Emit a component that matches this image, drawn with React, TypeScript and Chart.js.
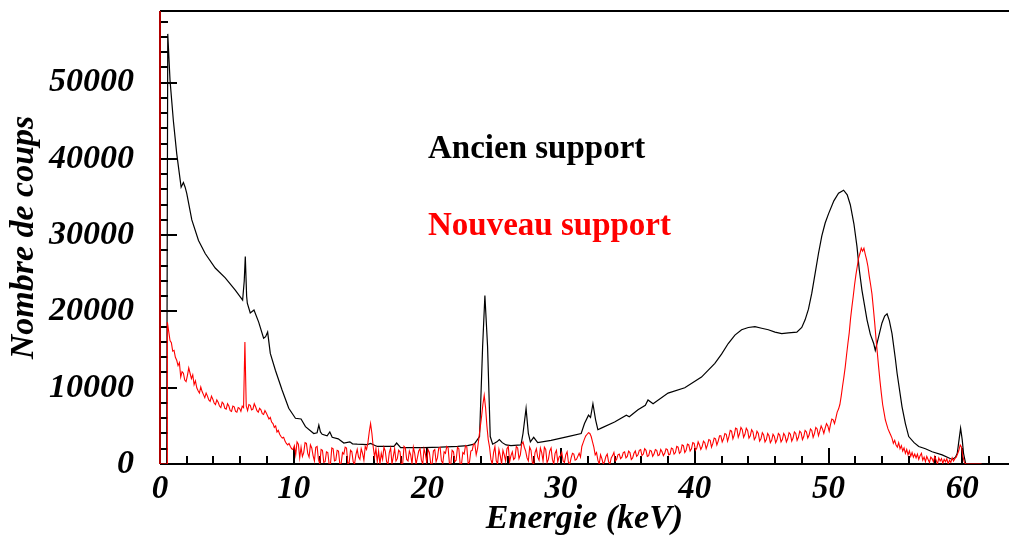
import React, { useEffect, useRef } from 'react';
import { Chart, registerables } from 'chart.js';

Chart.register(...registerables);

// ---- axis ranges / ticks ----
const X_MIN = 0;
const X_MAX = 63.5;
const Y_MIN = 0;
const Y_MAX = 59400;
const X_MAJOR = 10;
const X_MINOR = 2;
const Y_MAJOR = 10000;
const Y_MINOR = 2000;
const X_TICKS = [0, 10, 20, 30, 40, 50, 60];
const Y_TICKS = [0, 10000, 20000, 30000, 40000, 50000];

const X_TITLE = 'Energie (keV)';
const Y_TITLE = 'Nombre de coups';
const SERIES_LABELS = ['Ancien support', 'Nouveau support'];
const SERIES_COLORS = ['#000000', '#ff0000'];

// ---- "Ancien support" (black) spectrum ----
const blackEnergy = [
  0.5, 0.58, 0.75, 1.0, 1.25, 1.58, 1.75, 1.88, 2.0, 2.38, 2.88, 3.38, 4.13, 4.88, 5.63, 6.18, 6.3, 6.38, 6.48, 6.53,
  6.75, 7.03, 7.38, 7.75, 7.9, 8.05, 8.25, 8.63, 9.13, 9.63, 10.13, 10.55, 10.88, 11.5, 11.75, 11.88, 12.0, 12.13, 12.5, 12.7,
  12.88, 13.33, 13.75, 14.2, 14.4, 14.75, 15.5, 15.75, 16.0, 16.25, 17.5, 17.7, 18.0, 19.7, 21.0, 22.25, 23.0, 23.5, 23.9, 24.13,
  24.3, 24.5, 24.7, 24.88, 25.2, 25.38, 25.6, 25.88, 26.25, 27.0, 27.15, 27.38, 27.55, 27.7, 27.95, 28.25, 29.25, 30.5, 31.5, 31.75,
  32.05, 32.2, 32.38, 32.58, 32.75, 33.0, 34.0, 34.88, 35.1, 35.75, 36.3, 36.5, 36.88, 38.0, 39.25, 40.5, 41.5, 42.0, 42.5, 43.0,
  43.5, 44.0, 44.5, 45.0, 45.5, 46.0, 46.5, 47.0, 47.63, 48.0, 48.25, 48.5, 48.75, 49.0, 49.25, 49.5, 49.75, 50.0, 50.4, 50.75,
  51.13, 51.4, 51.63, 51.9, 52.13, 52.3, 52.5, 52.88, 53.13, 53.38, 53.5, 53.75, 54.0, 54.2, 54.38, 54.55, 54.75, 55.0, 55.13, 55.5,
  55.75, 56.0, 56.4, 56.75, 57.25, 57.75, 58.5, 59.25, 59.5, 59.63, 59.75, 59.88, 60.0, 60.1, 60.25, 60.4, 61.5,
];
const blackCounts = [
  0, 56400, 50300, 45000, 40700, 36300, 36900, 36300, 35500, 32000, 29300, 27600, 25700, 24400, 22800, 21500, 24000, 27200, 22000, 21100,
  19800, 20200, 18600, 16500, 16700, 17300, 14500, 12300, 9700, 7300, 6000, 5900, 4900, 4000, 4100, 5100, 4200, 3900, 3700, 4200,
  3500, 3300, 2750, 2900, 2650, 2600, 2550, 2700, 2500, 2300, 2300, 2750, 2150, 2150, 2200, 2300, 2400, 2600, 3600, 15400,
  22100, 15400, 3600, 2600, 2900, 3200, 2800, 2500, 2400, 2500, 4000, 7300, 4000, 2900, 3500, 2800, 3100, 3600, 4000, 5300,
  6400, 6100, 7900, 5800, 4500, 4700, 5500, 6400, 6200, 7100, 7700, 8400, 7900, 9300, 10000, 11400, 13200, 14400, 15800, 16900,
  17600, 17900, 18000, 17800, 17600, 17300, 17100, 17200, 17300, 17900, 18900, 20300, 22400, 25000, 27600, 29900, 31600, 32800, 34500, 35500,
  35900, 35300, 34000, 31500, 28500, 25500, 22800, 18900, 17000, 15800, 14900, 16700, 18500, 19400, 19700, 18800, 17100, 13800, 11900, 7500,
  5300, 3600, 2800, 2300, 2000, 1600, 1200, 600, 900, 1400, 3000, 4700, 3200, 1400, 100, 0, 0,
];

// ---- "Nouveau support" (red) spectrum ----
const redLeadEnergy = [0, 0.53];
const redLeadCounts = [0, 0];
const RED_START = 0.55; // keV, first channel
const RED_STEP = 0.1; // keV per channel (one row = 1 keV)
const redCounts = [
  18600, 17400, 16200, 15900, 14800, 14900, 14000, 13600, 12900, 13300,
  11400, 12100, 11900, 11000, 10800, 11600, 12600, 11900, 11200, 11700,
  10400, 10900, 10000, 9600, 9300, 10100, 9500, 9100, 8700, 9300,
  8900, 8400, 8200, 8900, 8500, 8000, 7800, 8400, 8100, 7600,
  7400, 8100, 7900, 7300, 7200, 7900, 7600, 7000, 6900, 7600,
  7500, 6900, 6800, 7400, 7300, 6900, 7600, 7400, 16000, 7600,
  7000, 7800, 7700, 7100, 7200, 7900, 7500, 7000, 6800, 7300,
  7100, 6600, 6500, 7000, 6700, 6300, 5900, 6100, 5500, 5300,
  4800, 5000, 4200, 4400, 3900, 3600, 3400, 3500, 3000, 2700,
  2500, 2700, 2300, 2000, 1900, 2400, 1200, 2900, 2600, 800,
  2200, 1000, 1500, 2800, 2700, 1400, 900, 2500, 2100, 1100,
  400, 2200, 2300, 600, 0, 1900, 1800, 200, 300, 1600,
  1500, 0, 0, 2100, 2000, 400, 500, 1800, 1700, 0,
  100, 1500, 1300, 2200, 2100, 0, 200, 1800, 1600, 300,
  0, 1200, 1900, 900, 600, 2000, 1400, 500, 2300, 1900,
  2800, 4200, 5300, 4000, 2200, 900, 2000, 300, 1700, 0,
  1400, 600, 2200, 1700, 300, 0, 1500, 2100, 0, 1000,
  2000, 400, 700, 1800, 1600, 0, 0, 2300, 2100, 600,
  400, 1700, 1200, 0, 2200, 1400, 0, 800, 1700, 2000,
  500, 0, 2000, 1300, 200, 1900, 1500, 0, 0, 1700,
  1900, 300, 800, 2100, 2200, 400, 100, 1600, 1400, 2300,
  2100, 0, 0, 1800, 1600, 300, 500, 2200, 2000, 0,
  0, 1500, 1300, 2400, 2200, 0, 300, 1700, 1800, 2600,
  2600, 1200, 2000, 3400, 4800, 6200, 7800, 9000, 7400, 5000,
  3200, 2200, 600, 0, 1500, 2300, 400, 0, 1900, 1100,
  0, 1800, 1200, 400, 2000, 2300, 300, 1100, 1600, 600,
  800, 2300, 2100, 700, 1200, 2600, 2900, 2200, 1700, 800,
  400, 2200, 1800, 200, 0, 1500, 2000, 900, 500, 2100,
  1500, 400, 2200, 1900, 200, 600, 1700, 2100, 600, 0,
  1400, 1800, 300, 900, 1100, 1500, 400, 200, 1200, 1600,
  200, 0, 800, 1400, 1300, 500, 600, 1000, 1400, 900,
  2300, 2800, 3300, 3700, 3900, 4100, 4000, 3600, 2900, 2200,
  1200, 1500, 500, 0, 1200, 700, 0, 300, 1000, 1300,
  300, 0, 800, 1100, 1500, 400, 600, 1200, 1300, 700,
  900, 1500, 1600, 800, 1000, 1700, 1500, 600, 800, 1400,
  1700, 1000, 1200, 1800, 1900, 1100, 1300, 2000, 1800, 1000,
  1100, 1800, 1700, 1000, 1300, 1900, 1800, 1100, 1200, 1900,
  1600, 1100, 1400, 2000, 1900, 1200, 1300, 2100, 2000, 1300,
  1500, 2300, 2200, 1400, 1600, 2500, 2400, 1500, 1800, 2600,
  2500, 1700, 2000, 2800, 2700, 1800, 2100, 2900, 2500, 1900,
  2300, 3000, 2800, 2000, 2500, 3200, 3100, 2200, 2700, 3400,
  3300, 2500, 3000, 3700, 3700, 2900, 3300, 4000, 3900, 3000,
  3600, 4400, 4300, 3300, 3800, 4700, 4600, 3500, 4000, 4800,
  4500, 3500, 3900, 4700, 4400, 3400, 3700, 4500, 4200, 3200,
  3500, 4300, 4000, 3000, 3300, 4100, 3800, 2900, 3200, 4000,
  3700, 2800, 3100, 3900, 3600, 2800, 3200, 4000, 3800, 2900,
  3200, 4000, 3700, 2900, 3300, 4100, 3900, 3000, 3400, 4200,
  4000, 3100, 3500, 4300, 4100, 3200, 3600, 4400, 4200, 3400,
  3800, 4600, 4400, 3500, 4000, 4800, 4600, 3700, 4300, 5000,
  4600, 4000, 4700, 5300, 5000, 4300, 5200, 5900, 5800, 5300,
  6000, 6800, 7200, 7800, 8900, 10200, 11400, 12700, 14300, 15800,
  17200, 19100, 20600, 22000, 23500, 24800, 25900, 27000, 27600, 28300,
  27900, 28300, 27500, 26800, 25900, 24600, 23500, 22300, 20500, 18600,
  16500, 14600, 12700, 10900, 9300, 7800, 6800, 5800, 5200, 4600,
  4200, 3800, 3400, 2700, 3100, 2500, 2200, 2800, 2000, 2400,
  1700, 2100, 1400, 1900, 1200, 1700, 1000, 1500, 900, 1300,
  800, 1300, 600, 1100, 1400, 500, 900, 300, 1000, 600,
  200, 900, 700, 300, 1000, 500, 0, 800, 400, 700,
  100, 600, 300, 700, 0, 500, 200, 800, 400, 700,
  900, 1300, 1800, 2500, 2200, 1000, 300, 0, 0, 0,
  0, 0, 0, 0, 0, 0, 0, 0, 0, 0,
];

const SERIF = '"Liberation Serif", "Times New Roman", serif';

const frameAndLabels = {
  id: 'frameAndLabels',
  beforeDatasetsDraw(chart: any) {
    const { ctx, chartArea, scales } = chart;
    const { left, right, top, bottom } = chartArea;
    const x = scales.x;
    const y = scales.y;
    ctx.save();
    ctx.strokeStyle = '#000';
    ctx.lineWidth = 2;
    ctx.beginPath();
    ctx.moveTo(left, top);
    ctx.lineTo(right, top);
    ctx.moveTo(left, bottom);
    ctx.lineTo(right, bottom);
    for (let v = Y_MINOR; v < Y_MAX; v += Y_MINOR) {
      const py = Math.round(y.getPixelForValue(v));
      const len = v % Y_MAJOR === 0 ? 17 : 8;
      ctx.moveTo(left, py);
      ctx.lineTo(left + len, py);
    }
    for (let v = X_MINOR; v < X_MAX; v += X_MINOR) {
      const px = Math.round(x.getPixelForValue(v));
      const len = v % X_MAJOR === 0 ? 16 : 8;
      ctx.moveTo(px, bottom);
      ctx.lineTo(px, bottom - len);
    }
    ctx.stroke();
    ctx.strokeStyle = '#b00000';
    ctx.beginPath();
    ctx.moveTo(left, top);
    ctx.lineTo(left, bottom);
    ctx.stroke();
    ctx.restore();
  },
  afterDraw(chart: any) {
    const { ctx } = chart;
    ctx.save();
    ctx.font = `bold 33px ${SERIF}`;
    ctx.textAlign = 'left';
    ctx.textBaseline = 'alphabetic';
    ctx.fillStyle = SERIES_COLORS[0];
    ctx.fillText(SERIES_LABELS[0], 428, 158);
    ctx.fillStyle = SERIES_COLORS[1];
    ctx.fillText(SERIES_LABELS[1], 428, 235);
    ctx.restore();
  },
};

export default function App() {
  const canvasRef = useRef<HTMLCanvasElement | null>(null);

  useEffect(() => {
    if (!canvasRef.current) return;
    const blackData = blackEnergy.map((e, i) => ({ x: e, y: blackCounts[i] }));
    const redData = [
      ...redLeadEnergy.map((e, i) => ({ x: e, y: redLeadCounts[i] })),
      ...redCounts.map((c, i) => ({ x: RED_START + i * RED_STEP, y: c })),
    ];
    const xTickFont = { family: SERIF, size: 33, style: 'italic' as const, weight: 'bold' as const };
    const yTickFont = { family: SERIF, size: 34, style: 'italic' as const, weight: 'bold' as const };
    const titleFont = { family: SERIF, size: 34, style: 'italic' as const, weight: 'bold' as const };

    const chart = new Chart(canvasRef.current, {
      type: 'line',
      data: {
        datasets: [
          {
            label: SERIES_LABELS[1],
            data: redData,
            borderColor: SERIES_COLORS[1],
            borderWidth: 1.1,
            pointRadius: 0,
            tension: 0,
          },
          {
            label: SERIES_LABELS[0],
            data: blackData,
            borderColor: SERIES_COLORS[0],
            borderWidth: 1.2,
            pointRadius: 0,
            tension: 0,
          },
        ],
      },
      options: {
        animation: false,
        responsive: true,
        maintainAspectRatio: false,
        layout: { padding: { top: 11, left: 0, right: 0, bottom: 0 } },
        plugins: { legend: { display: false }, tooltip: { enabled: false } },
        scales: {
          x: {
            type: 'linear',
            min: X_MIN,
            max: X_MAX,
            grid: { display: false },
            border: { display: false },
            ticks: {
              autoSkip: false,
              padding: -2,
              color: '#000',
              font: xTickFont,
              maxRotation: 0,
              minRotation: 0,
              callback: (v: any) => String(v),
            },
            afterBuildTicks: (s: any) => {
              s.ticks = X_TICKS.map((v) => ({ value: v }));
            },
            afterFit: (s: any) => {
              s.height = 76;
              s.paddingLeft = 0;
              s.paddingRight = 0;
            },
            title: { display: true, text: X_TITLE, color: '#000', font: titleFont, padding: { top: 0, bottom: 0 } },
          },
          y: {
            type: 'linear',
            min: Y_MIN,
            max: Y_MAX,
            grid: { display: false },
            border: { display: false },
            ticks: { autoSkip: false, padding: 18, color: '#000', font: yTickFont, callback: (v: any) => String(v) },
            afterBuildTicks: (s: any) => {
              s.ticks = Y_TICKS.map((v) => ({ value: v }));
            },
            afterFit: (s: any) => {
              s.width = 160;
              s.paddingTop = 0;
              s.paddingBottom = 0;
            },
            title: { display: true, text: Y_TITLE, color: '#000', font: titleFont, padding: { top: 4, bottom: 0 } },
          },
        },
      },
      plugins: [frameAndLabels],
    });
    return () => chart.destroy();
  }, []);

  return (
    <div style={{ position: 'absolute', left: 0, top: 0, width: 1009, height: 540, background: '#fff' }}>
      <canvas ref={canvasRef} />
    </div>
  );
}
